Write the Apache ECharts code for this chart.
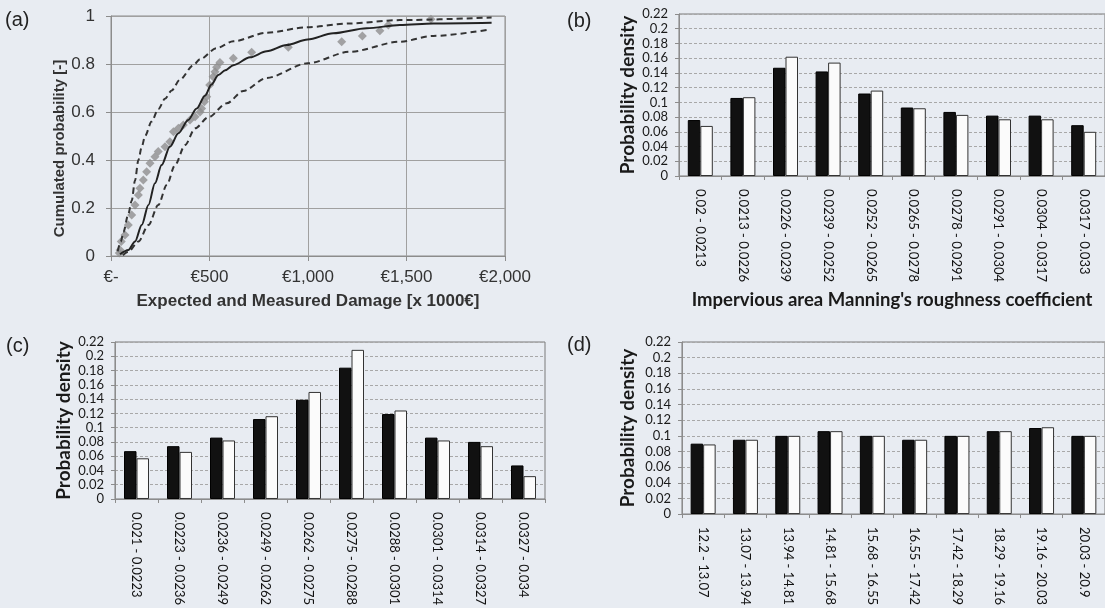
<!DOCTYPE html>
<html><head><meta charset="utf-8">
<script src="https://cdn.jsdelivr.net/npm/echarts@6/dist/echarts.min.js"></script>
<style>html,body{margin:0;padding:0;background:#e8ecf2}#c{width:1105px;height:608px}</style>
</head><body><div id="c"></div>
<script>
// ---------- Panel (a) data ----------
const aTickLabels = ['€-', '€500', '€1,000', '€1,500', '€2,000'];
const measuredX = [42, 46, 52, 71, 88, 105, 122, 139, 147, 164, 181, 198, 223, 240, 274, 299, 317, 342, 367, 401, 427, 452, 460, 474, 486, 501, 518, 528, 536, 553, 621, 714, 900, 1171, 1276, 1365, 1408, 1624];
const measuredY = [0.012, 0.025, 0.06, 0.0875, 0.129, 0.171, 0.2125, 0.254, 0.282, 0.317, 0.351, 0.386, 0.414, 0.435, 0.455, 0.476, 0.518, 0.532, 0.546, 0.567, 0.58, 0.6, 0.615, 0.643, 0.664, 0.712, 0.747, 0.768, 0.786, 0.806, 0.824, 0.849, 0.87, 0.893, 0.917, 0.939, 0.9625, 0.986];
const fitX = [46, 88, 122, 156, 190, 223, 257, 299, 342, 392, 435, 477, 510, 545, 580, 621, 706, 790, 892, 998, 1128, 1298, 1467, 1636, 1932];
const fitY = [0.007, 0.025, 0.06, 0.129, 0.2125, 0.303, 0.379, 0.455, 0.511, 0.567, 0.615, 0.668, 0.715, 0.754, 0.774, 0.795, 0.828, 0.853, 0.879, 0.902, 0.928, 0.949, 0.9625, 0.969, 0.972];
const upperX = [34, 50, 63, 88, 105, 122, 139, 156, 173, 206, 240, 274, 308, 350, 418, 452, 536, 621, 790, 993, 1213, 1467, 1932];
const upperY = [0.02, 0.06, 0.1, 0.175, 0.23, 0.315, 0.4, 0.455, 0.5, 0.56, 0.612, 0.655, 0.69, 0.735, 0.795, 0.82, 0.866, 0.895, 0.93, 0.953, 0.969, 0.983, 0.994];
const lowerX = [60, 88, 139, 190, 240, 283, 325, 376, 427, 494, 587, 672, 790, 998, 1213, 1467, 1636, 1924];
const lowerY = [0.003, 0.018, 0.06, 0.129, 0.2125, 0.296, 0.379, 0.4625, 0.532, 0.578, 0.636, 0.688, 0.742, 0.803, 0.851, 0.893, 0.917, 0.944];

// ---------- Panel (b) data ----------
const bCategories = ['0.02 - 0.0213', '0.0213 - 0.0226', '0.0226 - 0.0239', '0.0239 - 0.0252', '0.0252 - 0.0265', '0.0265 - 0.0278', '0.0278 - 0.0291', '0.0291 - 0.0304', '0.0304 - 0.0317', '0.0317 - 0.033'];
const bBlack = [0.076, 0.106, 0.147, 0.142, 0.112, 0.093, 0.087, 0.082, 0.082, 0.069];
const bWhite = [0.068, 0.107, 0.162, 0.154, 0.116, 0.092, 0.083, 0.077, 0.077, 0.060];

// ---------- Panel (c) data ----------
const cCategories = ['0.021 - 0.0223', '0.0223 - 0.0236', '0.0236 - 0.0249', '0.0249 - 0.0262', '0.0262 - 0.0275', '0.0275 - 0.0288', '0.0288 - 0.0301', '0.0301 - 0.0314', '0.0314 - 0.0327', '0.0327 - 0.034'];
const cBlack = [0.067, 0.074, 0.086, 0.112, 0.139, 0.184, 0.119, 0.086, 0.080, 0.047];
const cWhite = [0.057, 0.066, 0.082, 0.116, 0.150, 0.209, 0.124, 0.082, 0.074, 0.032];

// ---------- Panel (d) data ----------
const dCategories = ['12.2 - 13.07', '13.07 - 13.94', '13.94 - 14.81', '14.81 - 15.68', '15.68 - 16.55', '16.55 - 17.42', '17.42 - 18.29', '18.29 - 19.16', '19.16 - 20.03', '20.03 - 20.9'];
const dBlack = [0.090, 0.095, 0.100, 0.106, 0.100, 0.095, 0.100, 0.106, 0.110, 0.100];
const dWhite = [0.089, 0.095, 0.100, 0.106, 0.100, 0.095, 0.100, 0.106, 0.111, 0.100];

const panelLetters = ['(a)', '(b)', '(c)', '(d)'];

// ---------- build ----------
const zip = (xs, ys) => xs.map((x, i) => [x, ys[i]]);
const AR = 'Liberation Sans, Arial, sans-serif';
const CB = 'Lato, sans-serif';
const axisGray = '#8c8c8c';

function barX(gi, cats, name, nameGap) {
  return {
    type: 'category', gridIndex: gi, data: cats,
    axisLine: { lineStyle: { color: axisGray } },
    axisTick: { show: true, length: 4, lineStyle: { color: axisGray } },
    axisLabel: { rotate: -90, interval: 0, margin: 13, fontSize: 13, fontFamily: CB, color: '#111' },
    splitLine: { show: false },
    name: name || '', nameLocation: 'middle', nameGap: nameGap || 0,
    nameTextStyle: { fontFamily: CB, fontWeight: 'bold', fontSize: 18.5, color: '#1a1a1a' }
  };
}
function barY(gi, nameGap) {
  return {
    type: 'value', gridIndex: gi, min: 0, max: 0.22, interval: 0.02,
    axisLine: { show: true, lineStyle: { color: axisGray } },
    axisTick: { show: true, length: 4, lineStyle: { color: axisGray } },
    axisLabel: { fontSize: 13, fontFamily: CB, color: '#1a1a1a', margin: 11,
      formatter: v => String(Math.round(v * 100) / 100) },
    splitLine: { show: true, lineStyle: { color: '#a8a8a8', type: [3, 2] } },
    name: 'Probability density', nameLocation: 'middle', nameGap: nameGap,
    nameTextStyle: { fontFamily: CB, fontWeight: 'bold', fontSize: 19, color: '#1a1a1a' }
  };
}
function barSeries(gi, black, white) {
  return [
    { type: 'bar', name: 'Black', xAxisIndex: gi, yAxisIndex: gi, data: black, barWidth: 12.5, barGap: '0%',
      itemStyle: { color: '#111', borderColor: '#000', borderWidth: 1 } },
    { type: 'bar', name: 'White', xAxisIndex: gi, yAxisIndex: gi, data: white, barWidth: 12.5, barGap: '0%',
      itemStyle: { color: '#fbfbfb', borderColor: '#333', borderWidth: 1 } }
  ];
}

const letterStyle = { fontFamily: AR, fontSize: 20, fontWeight: 'normal', color: '#222' };
const option = {
  backgroundColor: '#e8ecf2',
  animation: false,
  title: [
    { text: panelLetters[0], left: 5, top: 10, padding: 0, textStyle: letterStyle },
    { text: panelLetters[1], left: 567, top: 11, padding: 0, textStyle: letterStyle },
    { text: panelLetters[2], left: 6, top: 336, padding: 0, textStyle: letterStyle },
    { text: panelLetters[3], left: 567, top: 335, padding: 0, textStyle: letterStyle }
  ],
  grid: [
    { left: 111, top: 16, width: 394, height: 240, show: true, borderColor: axisGray, borderWidth: 1, backgroundColor: 'transparent' },
    { left: 679, top: 14, width: 429, height: 162, show: true, borderColor: '#7a7a7a', borderWidth: 1, backgroundColor: 'transparent' },
    { left: 115, top: 342, width: 430, height: 160, show: true, borderColor: '#7a7a7a', borderWidth: 1, backgroundColor: 'transparent' },
    { left: 682, top: 342, width: 428, height: 175, show: true, borderColor: '#7a7a7a', borderWidth: 1, backgroundColor: 'transparent' }
  ],
  xAxis: [
    { type: 'value', gridIndex: 0, min: 0, max: 2000, interval: 500,
      axisLine: { lineStyle: { color: axisGray } },
      axisTick: { show: true, length: 5, lineStyle: { color: axisGray } },
      axisLabel: { formatter: v => aTickLabels[Math.round(v / 500)], fontSize: 17, fontFamily: AR, color: '#333', margin: 13 },
      splitLine: { show: true, lineStyle: { color: '#a0a0a0' } },
      name: 'Expected and Measured Damage [x 1000€]', nameLocation: 'middle', nameGap: 37,
      nameTextStyle: { fontFamily: AR, fontWeight: 'bold', fontSize: 17, color: '#333' } },
    barX(1, bCategories, "Impervious area Manning's roughness coefficient", 115),
    barX(2, cCategories),
    barX(3, dCategories)
  ],
  yAxis: [
    { type: 'value', gridIndex: 0, min: 0, max: 1, interval: 0.2,
      axisLine: { show: true, lineStyle: { color: axisGray } },
      axisTick: { show: true, length: 5, lineStyle: { color: axisGray } },
      axisLabel: { fontSize: 17, fontFamily: AR, color: '#333', margin: 16 },
      splitLine: { show: true, lineStyle: { color: '#a0a0a0' } },
      name: 'Cumulated probability [-]', nameLocation: 'middle', nameGap: 43,
      nameTextStyle: { fontFamily: AR, fontWeight: 'bold', fontSize: 15, color: '#333', padding: [0, 25, 0, 0] } },
    barY(1, 41.5),
    barY(2, 42),
    barY(3, 44.5)
  ],
  series: [
    { type: 'line', name: 'Upper bound', xAxisIndex: 0, yAxisIndex: 0, data: zip(upperX, upperY), smooth: 0.3, smoothMonotone: 'x', showSymbol: false,
      lineStyle: { color: '#333', width: 2, type: [6, 4] } },
    { type: 'line', name: 'Lower bound', xAxisIndex: 0, yAxisIndex: 0, data: zip(lowerX, lowerY), smooth: 0.3, smoothMonotone: 'x', showSymbol: false,
      lineStyle: { color: '#333', width: 2, type: [6, 4] } },
    { type: 'scatter', name: 'Measured', xAxisIndex: 0, yAxisIndex: 0, data: zip(measuredX, measuredY), symbol: 'diamond', symbolSize: 9,
      itemStyle: { color: '#8e8e8e' } },
    { type: 'line', name: 'Expected', xAxisIndex: 0, yAxisIndex: 0, data: zip(fitX, fitY), smooth: 0.3, smoothMonotone: 'x', showSymbol: false,
      lineStyle: { color: '#222', width: 2 } },
    ...barSeries(1, bBlack, bWhite),
    ...barSeries(2, cBlack, cWhite),
    ...barSeries(3, dBlack, dWhite)
  ]
};
const chart = echarts.init(document.getElementById('c'));
chart.setOption(option);
</script></body></html>
